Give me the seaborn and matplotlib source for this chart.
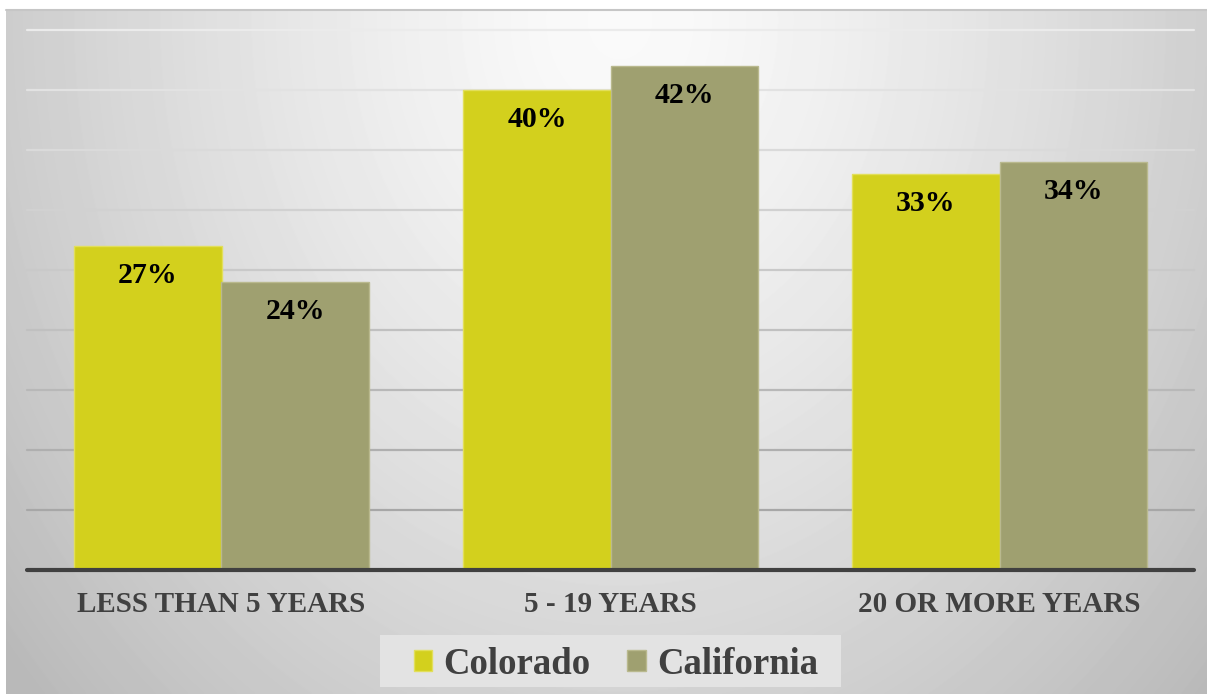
import numpy as np
import pandas as pd
import matplotlib
matplotlib.use("Agg")
import matplotlib.pyplot as plt
import seaborn as sns
from matplotlib.patches import Patch, Rectangle
from matplotlib.lines import Line2D

categories = ["LESS THAN 5 YEARS", "5 - 19 YEARS", "20 OR MORE YEARS"]
series = ["Colorado", "California"]
colorado = [27, 40, 33]
california = [24, 42, 34]
colors = ["#D3D01D", "#9FA070"]
edge_colors = ["#E2DF5A", "#B9B98E"]

sns.set_theme(style="white")
plt.rcParams["font.family"] = ["Liberation Serif", "DejaVu Serif"]

W, H = 1207, 694
fig = plt.figure(figsize=(W / 100, H / 100), dpi=100)
fig.patch.set_facecolor("white")

# background radial gradient
bg = fig.add_axes([6 / W, 0, 1 - 6 / W, (H - 9) / H], zorder=0)
yy, xx = np.mgrid[9:H, 6:W]
r = np.sqrt(((xx - 620) / 650.0) ** 2 + ((yy - 20) / 800.0) ** 2)
v = np.clip(251 - 50 * r ** 1.3, 185, 255) / 255.0
bg.imshow(v, cmap="gray", vmin=0, vmax=1, aspect="auto", extent=(0, 1, 0, 1),
          origin="upper", interpolation="bilinear")
bg.set_axis_off()
fig.add_artist(Line2D([6 / W, 1], [1 - 9.5 / H, 1 - 9.5 / H], color="#c6c6c6", lw=1.5,
                      transform=fig.transFigure, zorder=1))

# legend panel
fig.add_artist(Rectangle((380 / W, 1 - 687 / H), (841 - 380) / W, (687 - 635) / H,
                         transform=fig.transFigure, facecolor="#e3e3e3",
                         edgecolor="none", zorder=1))

# main axes
ax = fig.add_axes([27 / W, (H - 570) / H, (1194 - 27) / W, (570 - 30) / H], zorder=2)
ax.set_facecolor("none")

df = pd.DataFrame({
    "category": categories * 2,
    "state": [series[0]] * len(categories) + [series[1]] * len(categories),
    "value": colorado + california,
})

sns.barplot(data=df, x="category", y="value", hue="state", hue_order=series,
            order=categories, palette=colors, width=0.756, saturation=1,
            ax=ax, legend=False, zorder=2)

for cont, ec, vals in zip(ax.containers, edge_colors, [colorado, california]):
    for p in cont.patches:
        p.set_edgecolor(ec)
        p.set_linewidth(1)
    ax.bar_label(cont, labels=[f"{x}%" for x in vals], padding=-31, fontsize=21.5,
                 fontweight="bold", color="black")

ax.set_ylim(0, 45)
ax.set_xlim(-0.5, len(categories) - 0.5)

# gridlines, darker toward bottom
grid_vals = list(range(5, 50, 5))
for gv in grid_vals:
    t = gv / 45.0
    g = 0.62 + (0.92 - 0.62) * t
    ax.axhline(gv, color=(g, g, g), lw=1.6, zorder=0.5, clip_on=False)
ax.axhline(0, color="#404040", lw=3, zorder=3, clip_on=False)

for s in ax.spines.values():
    s.set_visible(False)
ax.set_yticks([])
ax.set_xlabel("")
ax.set_ylabel("")
ax.tick_params(axis="x", length=0, pad=15)
for lab in ax.get_xticklabels():
    lab.set_fontsize(21)
    lab.set_fontweight("bold")
    lab.set_color("#404040")

handles = [Patch(facecolor=c, edgecolor=ec) for c, ec in zip(colors, edge_colors)]
leg = fig.legend(handles=handles, labels=series, loc="center",
                 bbox_to_anchor=(616 / W, 1 - 664 / H), ncol=2, frameon=False,
                 prop={"size": 26.5, "weight": "bold"}, labelcolor="#404040",
                 handlelength=0.5, handleheight=0.5, handletextpad=0.3,
                 columnspacing=1.0, borderpad=0.25, borderaxespad=0)
leg.set_zorder(3)

fig.savefig("out.png", dpi=100)
